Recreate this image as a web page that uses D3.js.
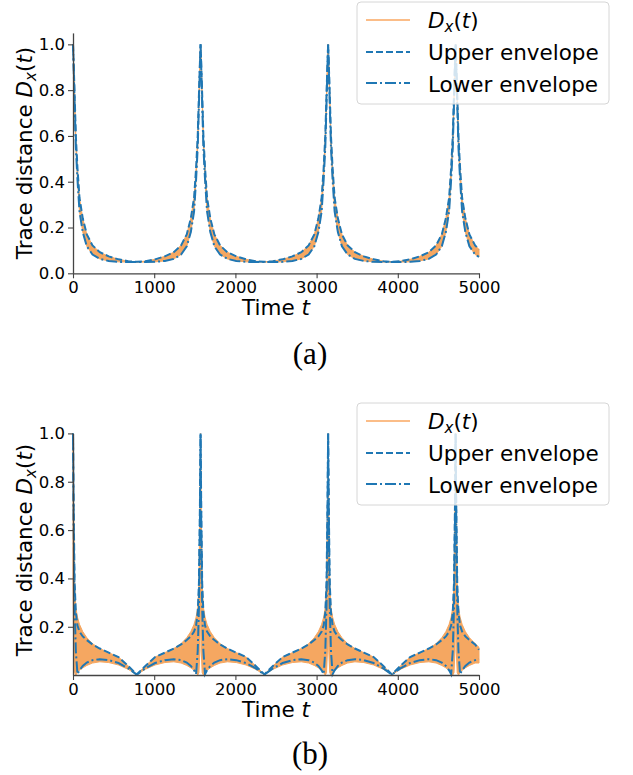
<!DOCTYPE html>
<html lang="en">
<head>
<meta charset="utf-8">
<title>Trace distance</title>
<script src="https://d3js.org/d3.v7.min.js"></script>
<style>
  body { margin: 0; background: #fff; }
  text { font-family: "DejaVu Sans", sans-serif; }
</style>
</head>
<body>
<div id="chart"></div>
<script>
// shared time grid (dense near the revivals at 0, 1571, 3142, 4712)
const times = [
  0, 8, 20, 35, 55, 80, 120, 170, 240, 330, 440, 560, 680, 785,
  891, 1011, 1131, 1241, 1331, 1401, 1451, 1491, 1516, 1536, 1551, 1563, 1571,
  1579, 1591, 1606, 1626, 1651, 1691, 1741, 1811, 1901, 2011, 2131, 2251, 2356,
  2462, 2582, 2702, 2812, 2902, 2972, 3022, 3062, 3087, 3107, 3122, 3134, 3142,
  3150, 3162, 3177, 3197, 3222, 3262, 3312, 3382, 3472, 3582, 3702, 3822, 3927,
  4032, 4152, 4272, 4382, 4472, 4542, 4592, 4632, 4657, 4677, 4692, 4704, 4712,
  4720, 4732, 4747, 4767, 4792, 4832, 4882, 4952, 5000
];

// panel (a)
const upperA = [
  1.00, 0.92, 0.78, 0.60, 0.46, 0.33, 0.24, 0.17, 0.122, 0.092, 0.074, 0.061, 0.053, 0.050,
  0.053, 0.061, 0.074, 0.092, 0.122, 0.17, 0.24, 0.33, 0.46, 0.60, 0.78, 0.92, 1.00,
  0.92, 0.78, 0.60, 0.46, 0.33, 0.24, 0.17, 0.122, 0.092, 0.074, 0.061, 0.053, 0.050,
  0.053, 0.061, 0.074, 0.092, 0.122, 0.17, 0.24, 0.33, 0.46, 0.60, 0.78, 0.92, 1.00,
  0.92, 0.78, 0.60, 0.46, 0.33, 0.24, 0.17, 0.122, 0.092, 0.074, 0.061, 0.053, 0.050,
  0.053, 0.061, 0.074, 0.092, 0.122, 0.17, 0.24, 0.33, 0.46, 0.60, 0.78, 0.92, 1.00,
  0.92, 0.78, 0.60, 0.46, 0.33, 0.24, 0.17, 0.122, 0.104
];
const lowerA = [
  1.00, 0.90, 0.74, 0.55, 0.41, 0.27, 0.18, 0.118, 0.082, 0.063, 0.054, 0.050, 0.049, 0.049,
  0.049, 0.050, 0.054, 0.063, 0.082, 0.118, 0.18, 0.27, 0.41, 0.55, 0.74, 0.90, 1.00,
  0.90, 0.74, 0.55, 0.41, 0.27, 0.18, 0.118, 0.082, 0.063, 0.054, 0.050, 0.049, 0.049,
  0.049, 0.050, 0.054, 0.063, 0.082, 0.118, 0.18, 0.27, 0.41, 0.55, 0.74, 0.90, 1.00,
  0.90, 0.74, 0.55, 0.41, 0.27, 0.18, 0.118, 0.082, 0.063, 0.054, 0.050, 0.049, 0.049,
  0.049, 0.050, 0.054, 0.063, 0.082, 0.118, 0.18, 0.27, 0.41, 0.55, 0.74, 0.90, 1.00,
  0.90, 0.74, 0.55, 0.41, 0.27, 0.18, 0.118, 0.082, 0.072
];

// panel (b)
const upperB = [
  1.00, 0.70, 0.38, 0.26, 0.205, 0.18, 0.16, 0.145, 0.127, 0.11, 0.093, 0.075, 0.038, 0.003,
  0.038, 0.075, 0.093, 0.11, 0.127, 0.145, 0.16, 0.18, 0.205, 0.26, 0.38, 0.70, 1.00,
  0.70, 0.38, 0.26, 0.205, 0.18, 0.16, 0.145, 0.127, 0.11, 0.093, 0.075, 0.038, 0.003,
  0.038, 0.075, 0.093, 0.11, 0.127, 0.145, 0.16, 0.18, 0.205, 0.26, 0.38, 0.70, 1.00,
  0.70, 0.38, 0.26, 0.205, 0.18, 0.16, 0.145, 0.127, 0.11, 0.093, 0.075, 0.038, 0.003,
  0.038, 0.075, 0.093, 0.11, 0.127, 0.145, 0.16, 0.18, 0.205, 0.26, 0.38, 0.70, 1.00,
  0.70, 0.38, 0.26, 0.205, 0.18, 0.16, 0.145, 0.127, 0.105
];
const lowerB = [
  1.00, 0.62, 0.28, 0.10, 0.004, 0.02, 0.038, 0.052, 0.062, 0.066, 0.062, 0.050, 0.028, 0.002,
  0.028, 0.050, 0.062, 0.066, 0.062, 0.052, 0.038, 0.02, 0.004, 0.10, 0.28, 0.62, 1.00,
  0.62, 0.28, 0.10, 0.004, 0.02, 0.038, 0.052, 0.062, 0.066, 0.062, 0.050, 0.028, 0.002,
  0.028, 0.050, 0.062, 0.066, 0.062, 0.052, 0.038, 0.02, 0.004, 0.10, 0.28, 0.62, 1.00,
  0.62, 0.28, 0.10, 0.004, 0.02, 0.038, 0.052, 0.062, 0.066, 0.062, 0.050, 0.028, 0.002,
  0.028, 0.050, 0.062, 0.066, 0.062, 0.052, 0.038, 0.02, 0.004, 0.10, 0.28, 0.62, 1.00,
  0.62, 0.28, 0.10, 0.004, 0.02, 0.038, 0.052, 0.062, 0.066
];
// extent of the fast D_x(t) oscillation in panel (b)
const bandHiB = [
  1.00, 0.70, 0.38, 0.28, 0.24, 0.21, 0.18, 0.155, 0.13, 0.11, 0.093, 0.075, 0.038, 0.003,
  0.038, 0.075, 0.093, 0.11, 0.13, 0.155, 0.18, 0.21, 0.24, 0.28, 0.38, 0.70, 1.00,
  0.70, 0.38, 0.28, 0.24, 0.21, 0.18, 0.155, 0.13, 0.11, 0.093, 0.075, 0.038, 0.003,
  0.038, 0.075, 0.093, 0.11, 0.13, 0.155, 0.18, 0.21, 0.24, 0.28, 0.38, 0.70, 1.00,
  0.70, 0.38, 0.28, 0.24, 0.21, 0.18, 0.155, 0.13, 0.11, 0.093, 0.075, 0.038, 0.003,
  0.038, 0.075, 0.093, 0.11, 0.13, 0.155, 0.18, 0.21, 0.24, 0.28, 0.38, 0.70, 1.00,
  0.70, 0.38, 0.28, 0.24, 0.21, 0.18, 0.155, 0.13, 0.115
];
const bandLoB = [
  0.40, 0.10, 0.01, 0.0, 0.01, 0.02, 0.03, 0.04, 0.05, 0.055, 0.052, 0.042, 0.024, 0.002,
  0.024, 0.042, 0.052, 0.055, 0.05, 0.04, 0.03, 0.02, 0.01, 0.0, 0.01, 0.10, 0.40,
  0.10, 0.01, 0.0, 0.01, 0.02, 0.03, 0.04, 0.05, 0.055, 0.052, 0.042, 0.024, 0.002,
  0.024, 0.042, 0.052, 0.055, 0.05, 0.04, 0.03, 0.02, 0.01, 0.0, 0.01, 0.10, 0.40,
  0.10, 0.01, 0.0, 0.01, 0.02, 0.03, 0.04, 0.05, 0.055, 0.052, 0.042, 0.024, 0.002,
  0.024, 0.042, 0.052, 0.055, 0.05, 0.04, 0.03, 0.02, 0.01, 0.0, 0.01, 0.10, 0.40,
  0.10, 0.01, 0.0, 0.01, 0.02, 0.03, 0.04, 0.05, 0.05
];

const xTicks = [0, 1000, 2000, 3000, 4000, 5000];
const yTicksA = [0.0, 0.2, 0.4, 0.6, 0.8, 1.0];
const yTicksB = [0.2, 0.4, 0.6, 0.8, 1.0];
const legendLabels = ["Upper envelope", "Lower envelope"];

const W = 633, H = 775;
const orangeFill = "#f5a761", orangeLine = "#fbbd88", blue = "#1f77b4";

const svg = d3.select("#chart").append("svg")
  .attr("width", W).attr("height", H);

function drawPanel(cfg) {
  let rows = times.map((t, i) => ({ t: t, up: cfg.upper[i], lo: cfg.lower[i],
    hi: cfg.bandHi[i], bl: cfg.bandLo[i] }));

  let x = d3.scaleLinear().domain([0, 5000]).range([73, 479]);
  let y = d3.scaleLinear().domain(cfg.yDomain).range([cfg.bottom, cfg.top]);

  let g = svg.append("g");

  // D_x(t): fast oscillation drawn as its filled extent
  g.append("path")
    .datum(rows)
    .attr("fill", orangeFill)
    .attr("stroke", orangeFill)
    .attr("stroke-width", 1)
    .attr("d", d3.area()
      .x(d => x(d.t))
      .y0(d => y(d.bl))
      .y1(d => y(d.hi)));

  g.append("path")
    .datum(rows)
    .attr("fill", "none")
    .attr("stroke", blue)
    .attr("stroke-width", 2)
    .attr("stroke-dasharray", "7,3")
    .attr("d", d3.line().x(d => x(d.t)).y(d => y(d.up)));

  g.append("path")
    .datum(rows)
    .attr("fill", "none")
    .attr("stroke", blue)
    .attr("stroke-width", 2)
    .attr("stroke-dasharray", "11,3,2,3")
    .attr("d", d3.line().x(d => x(d.t)).y(d => y(d.lo)));

  // axes, left and bottom only
  let xAxis = g.append("g")
    .attr("transform", "translate(0," + cfg.bottom + ")")
    .call(d3.axisBottom(x).tickValues(xTicks).tickFormat(d3.format("d"))
      .tickSize(5).tickSizeOuter(0).tickPadding(3));
  let yAxis = g.append("g")
    .attr("transform", "translate(73,0)")
    .call(d3.axisLeft(y).tickValues(cfg.yTicks).tickFormat(d3.format(".1f"))
      .tickSize(5).tickSizeOuter(0).tickPadding(3));
  [xAxis, yAxis].forEach(a => {
    a.select(".domain").attr("stroke", "#444").attr("stroke-width", 1.3);
    a.selectAll(".tick line").attr("stroke", "#444").attr("stroke-width", 1.1);
    a.selectAll(".tick text").attr("fill", "#000")
      .style("font-size", "16.5px").style("font-family", "DejaVu Sans");
  });

  // axis labels
  let xl = g.append("text")
    .attr("x", 276).attr("y", cfg.bottom + 42)
    .attr("text-anchor", "middle")
    .style("font-size", "21.5px");
  xl.append("tspan").text("Time ");
  xl.append("tspan").attr("font-style", "italic").text("t");

  let yl = g.append("text")
    .attr("transform", "translate(32," + cfg.yLabelMid + ") rotate(-90)")
    .attr("text-anchor", "middle")
    .style("font-size", "21.5px");
  yl.append("tspan").text("Trace distance ");
  yl.append("tspan").attr("font-style", "italic").text("D");
  yl.append("tspan").attr("font-style", "italic").attr("dy", 4)
    .style("font-size", "15px").text("x");
  yl.append("tspan").attr("dy", -4).text("(");
  yl.append("tspan").attr("font-style", "italic").text("t");
  yl.append("tspan").text(")");

  // legend
  let lg = g.append("g").attr("transform", "translate(0," + cfg.legendTop + ")");
  lg.append("rect")
    .attr("x", 357).attr("y", 0).attr("width", 252).attr("height", 102)
    .attr("rx", 4)
    .attr("fill", "#fff").attr("fill-opacity", 0.8)
    .attr("stroke", "#d6d6d6").attr("stroke-width", 1);

  lg.append("line")
    .attr("x1", 366).attr("x2", 410).attr("y1", 18).attr("y2", 18)
    .attr("stroke", orangeLine).attr("stroke-width", 2);
  lg.append("line")
    .attr("x1", 366).attr("x2", 410).attr("y1", 50).attr("y2", 50)
    .attr("stroke", blue).attr("stroke-width", 2).attr("stroke-dasharray", "7,3");
  lg.append("line")
    .attr("x1", 366).attr("x2", 410).attr("y1", 81).attr("y2", 81)
    .attr("stroke", blue).attr("stroke-width", 2).attr("stroke-dasharray", "11,3,2,3");

  let t0 = lg.append("text").attr("x", 428).attr("y", 26).style("font-size", "21.5px");
  t0.append("tspan").attr("font-style", "italic").text("D");
  t0.append("tspan").attr("font-style", "italic").attr("dy", 4)
    .style("font-size", "15px").text("x");
  t0.append("tspan").attr("dy", -4).text("(");
  t0.append("tspan").attr("font-style", "italic").text("t");
  t0.append("tspan").text(")");
  legendLabels.forEach((s, i) => {
    lg.append("text").attr("x", 428).attr("y", 58 + i * 31.5)
      .style("font-size", "21.5px").text(s);
  });

  // caption
  svg.append("text")
    .attr("x", 310).attr("y", cfg.captionY)
    .attr("text-anchor", "middle")
    .style("font-family", "'Liberation Serif', serif")
    .style("font-size", "31px")
    .text(cfg.caption);
}

drawPanel({
  upper: upperA, lower: lowerA, bandHi: upperA, bandLo: lowerA,
  yDomain: [0, 1.05], yTicks: yTicksA, top: 32.9, bottom: 273.3,
  yLabelMid: 153, legendTop: 2, caption: "(a)", captionY: 364
});
drawPanel({
  upper: upperB, lower: lowerB, bandHi: bandHiB, bandLo: bandLoB,
  yDomain: [0.0005, 1.0], yTicks: yTicksB, top: 433.4, bottom: 675,
  yLabelMid: 550, legendTop: 403, caption: "(b)", captionY: 764
});
</script>
</body>
</html>
